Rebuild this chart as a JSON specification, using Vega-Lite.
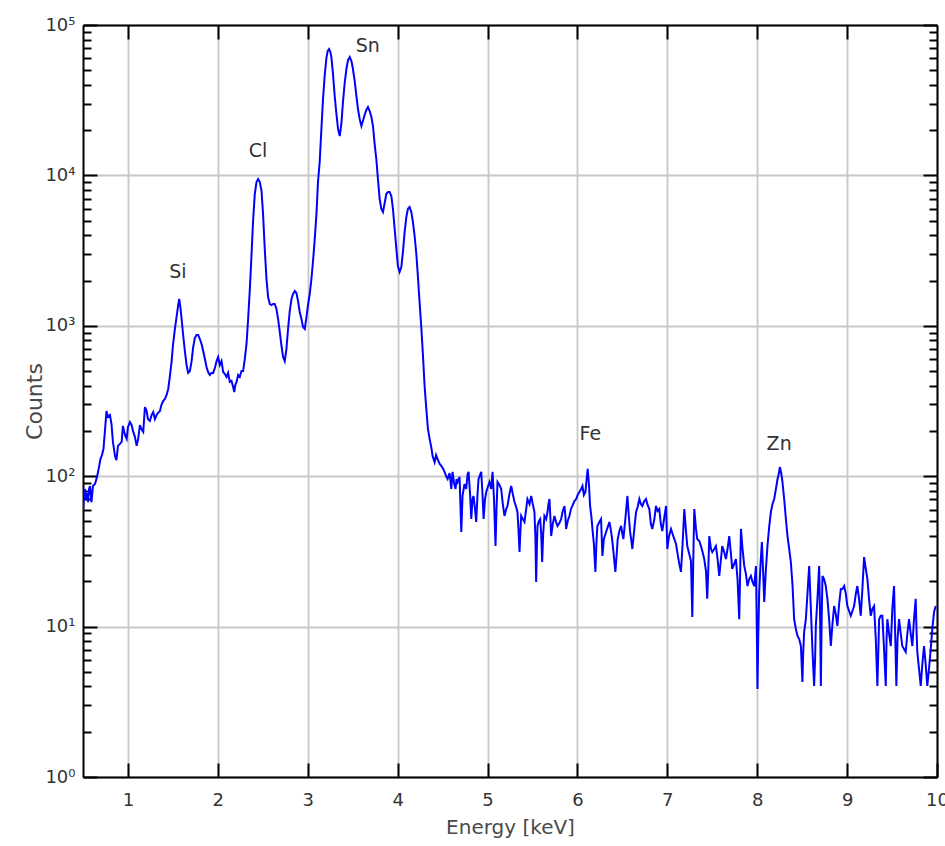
{
 "$schema": "https://vega.github.io/schema/vega-lite/v6.json",
 "width": 854,
 "height": 752,
 "autosize": {"type": "none"},
 "padding": {"left": 83, "top": 25, "right": 8, "bottom": 69},
 "background": "white",
 "config": {
  "view": {"stroke": null},
  "axis": {"labelFont": "DejaVu Sans", "titleFont": "DejaVu Sans", "domainColor": "black", "domainWidth": 2, "tickColor": "black", "tickWidth": 2, "labelColor": "#333333", "titleColor": "#4a4a4a", "titleFontWeight": "normal", "labelFontSize": 18, "titleFontSize": 20}
 },
 "layer": [
  {
   "data": {"values": [
{"e":0.500,"c":58.7},{"e":0.511,"c":73.9},{"e":0.522,"c":82.2},{"e":0.533,"c":70.5},{"e":0.544,"c":77.3},{"e":0.556,"c":67.3},{"e":0.567,"c":82.2},{"e":0.578,"c":86.1},{"e":0.594,"c":67.3},{"e":0.611,"c":86.1},
{"e":0.633,"c":88.7},{"e":0.656,"c":98.8},{"e":0.678,"c":115},{"e":0.694,"c":130},{"e":0.711,"c":138},{"e":0.728,"c":152},{"e":0.744,"c":200},{"e":0.761,"c":271},{"e":0.778,"c":248},{"e":0.800,"c":255},
{"e":0.817,"c":222},{"e":0.833,"c":169},{"e":0.856,"c":136},{"e":0.872,"c":128},{"e":0.889,"c":159},{"e":0.911,"c":164},{"e":0.930,"c":169},{"e":0.944,"c":216},{"e":0.967,"c":188},{"e":0.986,"c":177},
{"e":1.000,"c":212},{"e":1.022,"c":229},{"e":1.041,"c":219},{"e":1.056,"c":200},{"e":1.078,"c":182},{"e":1.097,"c":159},{"e":1.114,"c":177},{"e":1.133,"c":219},{"e":1.150,"c":206},{"e":1.170,"c":197},
{"e":1.189,"c":288},{"e":1.208,"c":271},{"e":1.222,"c":240},{"e":1.244,"c":233},{"e":1.263,"c":255},{"e":1.281,"c":267},{"e":1.300,"c":240},{"e":1.319,"c":255},{"e":1.333,"c":263},{"e":1.356,"c":271},
{"e":1.372,"c":297},{"e":1.392,"c":316},{"e":1.411,"c":326},{"e":1.430,"c":347},{"e":1.448,"c":380},{"e":1.467,"c":464},{"e":1.486,"c":583},{"e":1.500,"c":734},{"e":1.522,"c":952},{"e":1.541,"c":1145},
{"e":1.556,"c":1334},{"e":1.570,"c":1507},{"e":1.583,"c":1334},{"e":1.597,"c":1110},{"e":1.614,"c":869},{"e":1.633,"c":680},{"e":1.652,"c":549},{"e":1.670,"c":486},{"e":1.689,"c":500},{"e":1.708,"c":583},
{"e":1.726,"c":723},{"e":1.744,"c":830},{"e":1.763,"c":869},{"e":1.781,"c":869},{"e":1.800,"c":817},{"e":1.819,"c":757},{"e":1.837,"c":680},{"e":1.856,"c":602},{"e":1.874,"c":532},{"e":1.892,"c":493},
{"e":1.911,"c":471},{"e":1.930,"c":486},{"e":1.948,"c":486},{"e":1.967,"c":524},{"e":1.986,"c":583},{"e":2.003,"c":620},{"e":2.022,"c":549},{"e":2.041,"c":583},{"e":2.059,"c":493},{"e":2.078,"c":478},
{"e":2.097,"c":457},{"e":2.114,"c":486},{"e":2.133,"c":423},{"e":2.152,"c":430},{"e":2.170,"c":392},{"e":2.183,"c":363},{"e":2.194,"c":404},{"e":2.208,"c":423},{"e":2.226,"c":471},{"e":2.244,"c":457},
{"e":2.263,"c":500},{"e":2.281,"c":500},{"e":2.300,"c":602},{"e":2.319,"c":757},{"e":2.337,"c":1110},{"e":2.356,"c":1757},{"e":2.374,"c":2912},{"e":2.392,"c":4977},{"e":2.411,"c":7518},{"e":2.430,"c":9036},
{"e":2.448,"c":9462},{"e":2.467,"c":9036},{"e":2.486,"c":7874},{"e":2.503,"c":5537},{"e":2.522,"c":3243},{"e":2.541,"c":2047},{"e":2.559,"c":1553},{"e":2.578,"c":1396},{"e":2.597,"c":1375},{"e":2.614,"c":1396},
{"e":2.633,"c":1396},{"e":2.652,"c":1294},{"e":2.670,"c":1110},{"e":2.689,"c":910},{"e":2.708,"c":734},{"e":2.726,"c":620},{"e":2.744,"c":583},{"e":2.763,"c":702},{"e":2.781,"c":952},{"e":2.800,"c":1254},
{"e":2.819,"c":1507},{"e":2.837,"c":1627},{"e":2.856,"c":1703},{"e":2.874,"c":1652},{"e":2.892,"c":1462},{"e":2.911,"c":1236},{"e":2.930,"c":1110},{"e":2.948,"c":982},{"e":2.967,"c":952},{"e":2.986,"c":1145},
{"e":3.003,"c":1375},{"e":3.022,"c":1627},{"e":3.041,"c":2047},{"e":3.059,"c":2698},{"e":3.078,"c":3779},{"e":3.097,"c":5537},{"e":3.114,"c":9036},{"e":3.133,"c":12270},{"e":3.152,"c":20370},{"e":3.170,"c":32210},
{"e":3.189,"c":46530},{"e":3.208,"c":60390},{"e":3.222,"c":67130},{"e":3.237,"c":69230},{"e":3.252,"c":66100},{"e":3.263,"c":61240},{"e":3.281,"c":47210},{"e":3.300,"c":33730},{"e":3.319,"c":25590},{"e":3.337,"c":20370},
{"e":3.356,"c":18280},{"e":3.374,"c":21980},{"e":3.392,"c":30740},{"e":3.411,"c":41140},{"e":3.430,"c":50970},{"e":3.448,"c":58480},{"e":3.467,"c":61240},{"e":3.486,"c":57640},{"e":3.503,"c":50970},{"e":3.522,"c":42440},
{"e":3.541,"c":33730},{"e":3.559,"c":27610},{"e":3.578,"c":23710},{"e":3.597,"c":21300},{"e":3.614,"c":23010},{"e":3.633,"c":25200},{"e":3.652,"c":27210},{"e":3.670,"c":28510},{"e":3.689,"c":26800},{"e":3.708,"c":24450},
{"e":3.726,"c":21300},{"e":3.744,"c":16180},{"e":3.763,"c":12850},{"e":3.781,"c":9462},{"e":3.800,"c":6966},{"e":3.819,"c":5983},{"e":3.837,"c":5714},{"e":3.856,"c":6549},{"e":3.874,"c":7518},{"e":3.892,"c":7762},
{"e":3.911,"c":7762},{"e":3.930,"c":7295},{"e":3.948,"c":5983},{"e":3.967,"c":4404},{"e":3.986,"c":3243},{"e":4.003,"c":2500},{"e":4.022,"c":2279},{"e":4.041,"c":2460},{"e":4.059,"c":3097},{"e":4.078,"c":4204},
{"e":4.097,"c":5290},{"e":4.114,"c":5983},{"e":4.133,"c":6166},{"e":4.152,"c":5714},{"e":4.170,"c":4903},{"e":4.189,"c":3955},{"e":4.208,"c":3001},{"e":4.226,"c":2110},{"e":4.244,"c":1439},{"e":4.263,"c":982},
{"e":4.281,"c":650},{"e":4.300,"c":398},{"e":4.319,"c":280},{"e":4.337,"c":206},{"e":4.356,"c":177},{"e":4.374,"c":156},{"e":4.389,"c":136},{"e":4.411,"c":124},{"e":4.428,"c":138},{"e":4.444,"c":130},
{"e":4.467,"c":121},{"e":4.486,"c":117},{"e":4.506,"c":112},{"e":4.522,"c":107},{"e":4.544,"c":98.8},{"e":4.556,"c":95.8},{"e":4.578,"c":105},{"e":4.597,"c":82.2},{"e":4.611,"c":107},{"e":4.628,"c":90.1},
{"e":4.644,"c":82.2},{"e":4.656,"c":95.8},{"e":4.667,"c":91.5},{"e":4.689,"c":98.8},{"e":4.708,"c":42.6},{"e":4.722,"c":73.9},{"e":4.744,"c":88.7},{"e":4.763,"c":82.2},{"e":4.778,"c":103},{"e":4.789,"c":107},
{"e":4.806,"c":76.2},{"e":4.819,"c":51.9},{"e":4.833,"c":70.5},{"e":4.844,"c":73.9},{"e":4.861,"c":60.5},{"e":4.874,"c":49.6},{"e":4.889,"c":76.2},{"e":4.900,"c":95.8},{"e":4.917,"c":102},{"e":4.930,"c":107},
{"e":4.944,"c":76.2},{"e":4.956,"c":51.9},{"e":4.972,"c":70.5},{"e":4.986,"c":78.5},{"e":5.003,"c":84.8},{"e":5.022,"c":91.5},{"e":5.041,"c":82.2},{"e":5.056,"c":107},{"e":5.072,"c":70.5},{"e":5.089,"c":34.3},
{"e":5.100,"c":60.5},{"e":5.111,"c":91.5},{"e":5.133,"c":87.4},{"e":5.152,"c":82.2},{"e":5.170,"c":65.3},{"e":5.189,"c":54.4},{"e":5.208,"c":60.5},{"e":5.222,"c":63.4},{"e":5.244,"c":76.2},{"e":5.263,"c":86.1},
{"e":5.281,"c":76.2},{"e":5.300,"c":67.3},{"e":5.319,"c":62.4},{"e":5.333,"c":57.8},{"e":5.344,"c":44.6},{"e":5.356,"c":31.3},{"e":5.367,"c":44.6},{"e":5.374,"c":54.4},{"e":5.392,"c":51.9},{"e":5.411,"c":49.6},
{"e":5.430,"c":60.5},{"e":5.444,"c":70.5},{"e":5.467,"c":65.3},{"e":5.486,"c":73.9},{"e":5.503,"c":65.3},{"e":5.522,"c":57.8},{"e":5.533,"c":38.2},{"e":5.541,"c":19.8},{"e":5.550,"c":35.4},{"e":5.556,"c":46.7},
{"e":5.572,"c":50.4},{"e":5.586,"c":51.9},{"e":5.597,"c":41.3},{"e":5.608,"c":26.9},{"e":5.619,"c":41.3},{"e":5.633,"c":54.4},{"e":5.652,"c":51.9},{"e":5.667,"c":57.8},{"e":5.678,"c":65.3},{"e":5.689,"c":70.5},
{"e":5.700,"c":51.9},{"e":5.708,"c":40.0},{"e":5.726,"c":48.1},{"e":5.744,"c":54.4},{"e":5.763,"c":49.6},{"e":5.778,"c":46.7},{"e":5.800,"c":48.9},{"e":5.819,"c":51.9},{"e":5.837,"c":58.7},{"e":5.856,"c":63.4},
{"e":5.867,"c":53.5},{"e":5.874,"c":44.6},{"e":5.892,"c":50.4},{"e":5.911,"c":54.4},{"e":5.928,"c":60.5},{"e":5.944,"c":63.4},{"e":5.967,"c":68.4},{"e":5.986,"c":70.5},{"e":6.003,"c":75.0},{"e":6.022,"c":78.5},
{"e":6.041,"c":82.2},{"e":6.056,"c":86.1},{"e":6.072,"c":75.0},{"e":6.089,"c":78.5},{"e":6.103,"c":95.8},{"e":6.114,"c":112},{"e":6.128,"c":88.7},{"e":6.141,"c":63.4},{"e":6.156,"c":53.5},{"e":6.167,"c":44.6},
{"e":6.183,"c":35.4},{"e":6.200,"c":23.1},{"e":6.211,"c":35.4},{"e":6.222,"c":46.7},{"e":6.244,"c":49.6},{"e":6.263,"c":51.9},{"e":6.278,"c":29.5},{"e":6.294,"c":38.2},{"e":6.319,"c":42.6},{"e":6.337,"c":45.9},
{"e":6.356,"c":49.6},{"e":6.370,"c":44.6},{"e":6.386,"c":38.2},{"e":6.403,"c":30.4},{"e":6.422,"c":23.1},{"e":6.437,"c":30.4},{"e":6.448,"c":38.2},{"e":6.467,"c":43.2},{"e":6.486,"c":46.7},{"e":6.500,"c":41.3},
{"e":6.511,"c":38.2},{"e":6.533,"c":51.9},{"e":6.556,"c":73.9},{"e":6.570,"c":56.1},{"e":6.586,"c":42.6},{"e":6.600,"c":37.1},{"e":6.611,"c":32.8},{"e":6.633,"c":44.6},{"e":6.652,"c":57.8},{"e":6.670,"c":62.4},
{"e":6.689,"c":70.5},{"e":6.706,"c":65.3},{"e":6.722,"c":63.4},{"e":6.744,"c":68.4},{"e":6.763,"c":70.5},{"e":6.781,"c":64.4},{"e":6.800,"c":60.5},{"e":6.817,"c":48.1},{"e":6.833,"c":44.6},{"e":6.856,"c":51.9},
{"e":6.874,"c":63.4},{"e":6.892,"c":58.7},{"e":6.911,"c":60.5},{"e":6.928,"c":48.1},{"e":6.944,"c":43.2},{"e":6.967,"c":53.5},{"e":6.986,"c":63.4},{"e":7.000,"c":32.8},{"e":7.017,"c":39.4},{"e":7.041,"c":44.6},
{"e":7.059,"c":41.3},{"e":7.078,"c":38.2},{"e":7.097,"c":35.4},{"e":7.111,"c":31.3},{"e":7.133,"c":26.1},{"e":7.152,"c":23.1},{"e":7.170,"c":35.4},{"e":7.189,"c":60.5},{"e":7.206,"c":44.6},{"e":7.222,"c":34.3},
{"e":7.244,"c":30.4},{"e":7.263,"c":27.3},{"e":7.278,"c":11.6},{"e":7.289,"c":28.1},{"e":7.300,"c":60.5},{"e":7.319,"c":44.6},{"e":7.333,"c":38.2},{"e":7.356,"c":37.1},{"e":7.374,"c":34.3},{"e":7.392,"c":31.3},
{"e":7.411,"c":28.1},{"e":7.430,"c":23.4},{"e":7.444,"c":15.3},{"e":7.456,"c":24.2},{"e":7.467,"c":40.0},{"e":7.486,"c":32.8},{"e":7.500,"c":31.3},{"e":7.522,"c":32.8},{"e":7.541,"c":34.3},{"e":7.559,"c":28.1},
{"e":7.578,"c":21.7},{"e":7.597,"c":28.1},{"e":7.611,"c":34.3},{"e":7.633,"c":31.3},{"e":7.652,"c":28.1},{"e":7.670,"c":32.8},{"e":7.689,"c":40.0},{"e":7.708,"c":30.4},{"e":7.722,"c":24.2},{"e":7.744,"c":26.1},
{"e":7.763,"c":28.1},{"e":7.781,"c":20.7},{"e":7.800,"c":11.2},{"e":7.811,"c":24.2},{"e":7.819,"c":44.6},{"e":7.837,"c":32.8},{"e":7.856,"c":25.3},{"e":7.874,"c":22.4},{"e":7.892,"c":18.6},{"e":7.911,"c":20.7},
{"e":7.930,"c":21.7},{"e":7.948,"c":19.8},{"e":7.967,"c":18.6},{"e":7.986,"c":25.3},{"e":7.994,"c":11.2},{"e":8.003,"c":3.85},{"e":8.011,"c":8.27},{"e":8.022,"c":17.0},{"e":8.037,"c":26.1},{"e":8.052,"c":36.5},
{"e":8.067,"c":22.4},{"e":8.078,"c":14.6},{"e":8.097,"c":24.2},{"e":8.114,"c":34.3},{"e":8.133,"c":45.9},{"e":8.152,"c":57.8},{"e":8.170,"c":65.3},{"e":8.189,"c":70.5},{"e":8.208,"c":82.2},{"e":8.226,"c":95.8},
{"e":8.239,"c":103},{"e":8.252,"c":115},{"e":8.267,"c":105},{"e":8.281,"c":91.5},{"e":8.300,"c":70.5},{"e":8.319,"c":51.9},{"e":8.337,"c":40.0},{"e":8.356,"c":32.8},{"e":8.374,"c":26.9},{"e":8.392,"c":19.2},
{"e":8.411,"c":11.2},{"e":8.430,"c":9.64},{"e":8.448,"c":8.66},{"e":8.467,"c":8.27},{"e":8.486,"c":7.43},{"e":8.503,"c":4.28},{"e":8.511,"c":6.58},{"e":8.522,"c":9.2},{"e":8.541,"c":11.2},{"e":8.559,"c":16.5},
{"e":8.578,"c":25.3},{"e":8.597,"c":13.1},{"e":8.614,"c":7.10},{"e":8.633,"c":4.03},{"e":8.644,"c":6.09},{"e":8.652,"c":10.1},{"e":8.670,"c":15.3},{"e":8.689,"c":25.3},{"e":8.700,"c":11.2},{"e":8.708,"c":4.03},
{"e":8.717,"c":11.2},{"e":8.726,"c":21.7},{"e":8.744,"c":20.7},{"e":8.763,"c":18.6},{"e":8.781,"c":15.3},{"e":8.800,"c":11.2},{"e":8.819,"c":7.43},{"e":8.837,"c":10.4},{"e":8.856,"c":13.7},{"e":8.874,"c":12.1},
{"e":8.892,"c":10.1},{"e":8.911,"c":14.1},{"e":8.930,"c":17.8},{"e":8.948,"c":17.8},{"e":8.967,"c":18.6},{"e":8.986,"c":16.5},{"e":9.003,"c":13.7},{"e":9.022,"c":12.7},{"e":9.041,"c":11.8},{"e":9.059,"c":12.7},
{"e":9.078,"c":13.7},{"e":9.097,"c":16.5},{"e":9.114,"c":18.6},{"e":9.133,"c":15.3},{"e":9.152,"c":11.8},{"e":9.170,"c":17.8},{"e":9.189,"c":29.0},{"e":9.208,"c":24.2},{"e":9.226,"c":20.7},{"e":9.244,"c":15.3},
{"e":9.263,"c":11.8},{"e":9.281,"c":13.1},{"e":9.300,"c":13.7},{"e":9.319,"c":8.27},{"e":9.337,"c":4.03},{"e":9.348,"c":7.10},{"e":9.356,"c":11.2},{"e":9.374,"c":11.8},{"e":9.392,"c":11.8},{"e":9.411,"c":7.10},
{"e":9.430,"c":4.03},{"e":9.439,"c":8.27},{"e":9.448,"c":11.2},{"e":9.467,"c":8.93},{"e":9.486,"c":7.43},{"e":9.503,"c":13.1},{"e":9.522,"c":18.6},{"e":9.536,"c":8.27},{"e":9.548,"c":4.03},{"e":9.561,"c":8.27},
{"e":9.578,"c":11.2},{"e":9.597,"c":8.93},{"e":9.614,"c":7.43},{"e":9.633,"c":7.10},{"e":9.652,"c":6.78},{"e":9.670,"c":8.93},{"e":9.689,"c":11.2},{"e":9.708,"c":8.93},{"e":9.726,"c":7.43},{"e":9.744,"c":11.2},
{"e":9.763,"c":15.3},{"e":9.772,"c":9.64},{"e":9.781,"c":6.78},{"e":9.800,"c":5.23},{"e":9.819,"c":4.03},{"e":9.837,"c":5.64},{"e":9.856,"c":7.43},{"e":9.874,"c":5.64},{"e":9.892,"c":4.03},{"e":9.911,"c":5.23},
{"e":9.930,"c":7.10},{"e":9.948,"c":9.64},{"e":9.967,"c":12.5},{"e":9.986,"c":13.7}
   ]},
   "mark": {"type": "line", "color": "#0000ff", "strokeWidth": 2, "clip": true},
   "encoding": {
    "x": {"field": "e", "type": "quantitative",
     "scale": {"domain": [0.5, 10], "nice": false, "zero": false},
     "axis": {"orient": "bottom", "values": [1,2,3,4,5,6,7,8,9,10], "title": "Energy [keV]", "tickSize": -14, "labelPadding": 28, "labelFlush": false, "labelOverlap": false, "grid": true, "gridColor": "#c8c8c8", "gridWidth": 1.8, "titlePadding": 8}},
    "y": {"field": "c", "type": "quantitative",
     "scale": {"type": "log", "domain": [1, 100000], "nice": false},
     "axis": {"orient": "left", "title": "Counts",
      "values": [1,2,3,4,5,6,7,8,9,10,20,30,40,50,60,70,80,90,100,200,300,400,500,600,700,800,900,1000,2000,3000,4000,5000,6000,7000,8000,9000,10000,20000,30000,40000,50000,60000,70000,80000,90000,100000],
      "tickSize": {"condition": {"test": "indexof([1,10,100,1000,10000,100000], datum.value) >= 0", "value": -14}, "value": -8},
      "labelPadding": 22, "labelOverlap": false, "labelFlush": false,
      "labelExpr": "datum.value == 1 ? '10⁰' : datum.value == 10 ? '10¹' : datum.value == 100 ? '10²' : datum.value == 1000 ? '10³' : datum.value == 10000 ? '10⁴' : datum.value == 100000 ? '10⁵' : ''",
      "grid": true, "gridColor": "#c8c8c8", "gridWidth": 1.8,
      "gridOpacity": {"condition": {"test": "indexof([1,10,100,1000,10000,100000], datum.value) >= 0", "value": 1}, "value": 0},
      "titleFontSize": 22, "titlePadding": -2}}
   }
  },
  {
   "data": {"values": [
    {"e": 1.556, "c": 2279, "label": "Si"},
    {"e": 2.448, "c": 14520, "label": "Cl"},
    {"e": 3.667, "c": 72500, "label": "Sn"},
    {"e": 6.144, "c": 191, "label": "Fe"},
    {"e": 8.244, "c": 164, "label": "Zn"}
   ]},
   "mark": {"type": "text", "font": "DejaVu Sans", "fontSize": 19, "color": "#333333"},
   "encoding": {
    "x": {"field": "e", "type": "quantitative",
     "scale": {"domain": [0.5, 10], "nice": false, "zero": false},
     "axis": {"orient": "top", "values": [1,2,3,4,5,6,7,8,9], "labels": false, "title": null, "tickSize": -14, "grid": false}},
    "y": {"field": "c", "type": "quantitative",
     "scale": {"type": "log", "domain": [1, 100000], "nice": false},
     "axis": {"orient": "right", "labels": false, "title": null, "grid": false,
      "values": [1,2,3,4,5,6,7,8,9,10,20,30,40,50,60,70,80,90,100,200,300,400,500,600,700,800,900,1000,2000,3000,4000,5000,6000,7000,8000,9000,10000,20000,30000,40000,50000,60000,70000,80000,90000,100000],
      "tickSize": {"condition": {"test": "indexof([1,10,100,1000,10000,100000], datum.value) >= 0", "value": -14}, "value": -8}}},
    "text": {"field": "label"}
   }
  }
 ],
 "resolve": {"axis": {"x": "independent", "y": "independent"}}
}
